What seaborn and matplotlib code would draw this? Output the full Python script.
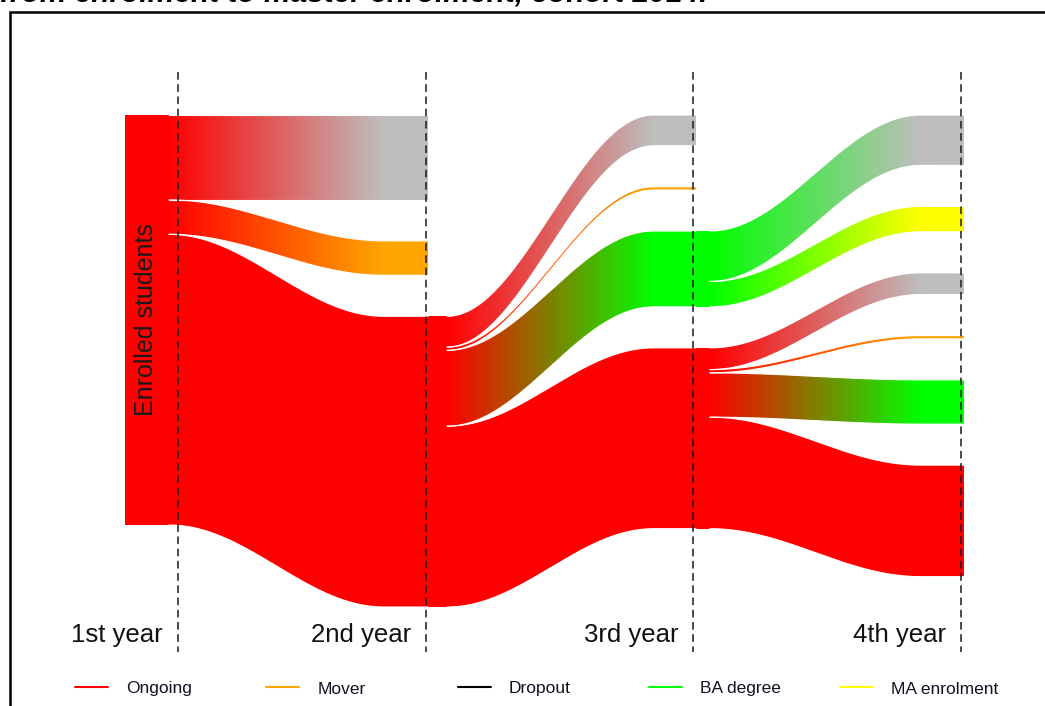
import numpy as np
import matplotlib
matplotlib.use("Agg")
import matplotlib.pyplot as plt
import seaborn as sns
from matplotlib.patches import Polygon, Rectangle
from matplotlib.colors import to_rgb

sns.set_theme(style="white")
plt.rcParams['font.family'] = ['Liberation Sans', 'DejaVu Sans']

# ---------------- data (share of the enrolled cohort, %) ----------------
years = ["1st year", "2nd year", "3rd year", "4th year"]
statuses = ["Ongoing", "Mover", "Dropout", "BA degree", "MA enrolment"]

enrolled_y1 = 100.0
# 1st year (enrolled) -> 2nd year
y2_targets = ["Dropout", "Mover", "Ongoing"]
y2_values = [20.7, 8.4, 70.9]
# 2nd year Ongoing -> 3rd year
y3_targets = ["Dropout", "Mover", "BA degree", "Ongoing"]
y3_values = [7.5, 0.8, 18.5, 44.1]
# 3rd year BA degree -> 4th year
y4_from_ba_targets = ["Dropout", "MA enrolment"]
y4_from_ba_values = [12.3, 6.2]
# 3rd year Ongoing -> 4th year
y4_from_on_targets = ["Dropout", "Mover", "BA degree", "Ongoing"]
y4_from_on_values = [5.3, 0.8, 10.8, 27.2]

node_colors = {"Ongoing": "#FF0000", "Mover": "#FFA500", "Dropout": "#BEBEBE",
               "BA degree": "#00FF00", "MA enrolment": "#FFFF00"}
legend_colors = {"Ongoing": "#FF0000", "Mover": "#FFA500", "Dropout": "#000000",
                 "BA degree": "#00FF00", "MA enrolment": "#FFFF00"}

# levels: (parent index in previous level, status, value)
levels = [
    [(None, "Ongoing", enrolled_y1)],
    [(0, t, v) for t, v in zip(y2_targets, y2_values)],
    [(2, t, v) for t, v in zip(y3_targets, y3_values)],
    [(2, t, v) for t, v in zip(y4_from_ba_targets, y4_from_ba_values)]
    + [(3, t, v) for t, v in zip(y4_from_on_targets, y4_from_on_values)],
]

# ---------------- layout ----------------
W, H = 1045, 706
PX0 = 115.0          # pixel row where stacks start
PX_PER_UNIT = 4.1
GAP = 10.0           # gap between stacked nodes (units)
year_x = [178, 426, 693, 961]
flow_x0 = [169, 447, 710]
flow_x1 = [428, 696, 964]
first_block_x = 125
CURVE_FRAC = 0.83


def py(px):
    return (px - PX0) / PX_PER_UNIT


fig = plt.figure(figsize=(W / 100, H / 100), dpi=100)
ax = fig.add_axes([0, 0, 1, 1])
ax.set_axis_off()

# node stacking
tops = []
for lvl in levels:
    cur = 0.0
    t = []
    for (_, _, v) in lvl:
        t.append(cur)
        cur += v + GAP
    tops.append(t)


def draw_flow(x0, x1, s_top, s_bot, t_top, t_bot, c0, c1, n=400):
    xs = np.linspace(x0, x1, n)
    u = np.clip((xs - x0) / (CURVE_FRAC * (x1 - x0)), 0, 1)
    f = (1 - np.cos(np.pi * u)) / 2
    top = s_top + (t_top - s_top) * f
    bot = s_bot + (t_bot - s_bot) * f
    verts = np.column_stack([np.r_[xs, xs[::-1]], np.r_[top, bot[::-1]]])
    poly = Polygon(verts, closed=True, transform=ax.transData)
    a = np.array(to_rgb(c0))
    b = np.array(to_rgb(c1))
    grad = (a[None, :] * (1 - u[:, None]) + b[None, :] * u[:, None])[None, :, :]
    ymin = min(top.min(), bot.min())
    ymax = max(top.max(), bot.max())
    im = ax.imshow(grad, extent=(x0, x1, ymax, ymin), aspect='auto',
                   interpolation='bilinear', zorder=2)
    im.set_clip_path(poly)
    ax.plot(xs, top, color='white', lw=0.8, zorder=3)
    ax.plot(xs, bot, color='white', lw=0.8, zorder=3)


# first-year block
ax.add_patch(Rectangle((first_block_x, 0), year_x[0] - first_block_x, enrolled_y1,
                       facecolor=node_colors["Ongoing"], edgecolor='none', zorder=1))

for li in range(1, len(levels)):
    offsets = {}
    for ni, (parent, st, v) in enumerate(levels[li]):
        pst = levels[li - 1][parent][1]
        off = offsets.get(parent, 0.0)
        s_top = tops[li - 1][parent] + off
        offsets[parent] = off + v
        t_top = tops[li][ni]
        draw_flow(flow_x0[li - 1], flow_x1[li - 1], s_top, s_top + v,
                  t_top, t_top + v, node_colors[pst], node_colors[st])
    # short node blocks for parents between year line and flow start
    if li >= 2:
        for parent in offsets:
            pst = levels[li - 1][parent][1]
            ax.add_patch(Rectangle((year_x[li - 1], tops[li - 1][parent]),
                                   flow_x0[li - 1] - year_x[li - 1] + 1,
                                   levels[li - 1][parent][2],
                                   facecolor=node_colors[pst], edgecolor='none', zorder=1))

# dashed year lines
ax.vlines(year_x, py(72), py(652), colors='#1a1a1a', linestyles=(0, (5, 3)), lw=1.1, zorder=6)

# year labels
for x, lab in zip(year_x, years):
    ax.text(x - 15, py(642), lab, ha='right', va='baseline', fontsize=18.5, color='#111111')

ax.text(146, py(320), "Enrolled students", rotation=90, ha='center', va='center',
        fontsize=18, color='#1a1a1a', zorder=7)

# legend
for i, s in enumerate(statuses):
    lx = 75 + 191.3 * i
    ax.plot([lx, lx + 33], [py(687), py(687)], color=legend_colors[s], lw=1.5)
    ax.text(lx + 51, py(689), s, ha='left', va='center', fontsize=12.5,
            color='#111122')

ax.set_xlim(0, W)
ax.set_ylim(py(H), py(0))

# title (cut off at top, as in the source) and frame
fig.text(0.0, 1 - 1.0 / H, "from enrolment to master enrolment, cohort 2014.",
         style='italic', weight='bold', fontsize=21.5, ha='left', va='baseline',
         color='black')
fig.add_artist(Rectangle((9.5 / W, -0.1), 1.2, (H - 12) / H + 0.1,
                         transform=fig.transFigure, fill=False, lw=1.8, ec='black'))

fig.savefig("out.png", dpi=100)
